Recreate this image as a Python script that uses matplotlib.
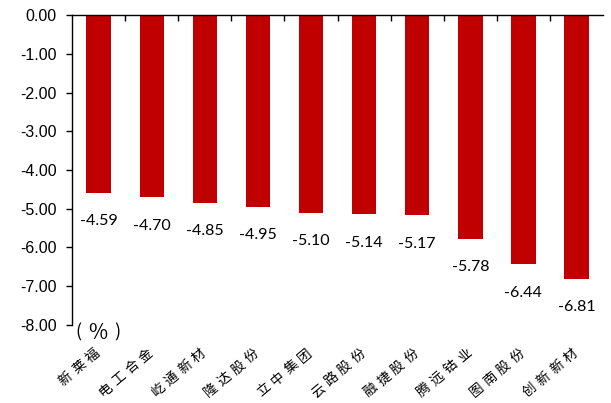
import numpy as np
import matplotlib.pyplot as plt

# 数据
names = ["新莱福", "电工合金", "屹通新材", "隆达股份", "立中集团",
         "云路股份", "融捷股份", "腾远钴业", "图南股份", "创新新材"]
values = [-4.59, -4.70, -4.85, -4.95, -5.10, -5.14, -5.17, -5.78, -6.44, -6.81]
y_ticks = [0, -1, -2, -3, -4, -5, -6, -7, -8]

cjk = ["Noto Sans CJK SC", "DejaVu Sans"]
px = 0.72  # 1 像素 = 0.72 点 (dpi=100)

fig = plt.figure(figsize=(6.11, 4.03), dpi=100)
ax = fig.add_axes([0.118, 0.194, 0.869, 0.768])

x = np.arange(len(names))
ax.bar(x, values, width=0.46, color="#C00000")

for xi, v in zip(x, values):
    ax.annotate(f"{v:.2f}", (xi, v), xytext=(0, -15.5), textcoords="offset points",
                ha="center", va="top", fontsize=11.5, family="Lato")

ax.set_xlim(-0.5, len(names) - 0.5)
ax.set_ylim(-8, 0)
ax.set_yticks(y_ticks)
ax.set_yticklabels([f"{t:.2f}" for t in y_ticks], family="Liberation Sans", fontsize=11.5)
ax.tick_params(axis="y", direction="out", length=4, width=1, pad=7)

# 横轴在顶部,刻度在类别分界处
ax.xaxis.set_ticks_position("top")
ax.set_xticks(np.arange(0.5, len(names) - 1, 1))
ax.set_xticklabels([])
ax.tick_params(axis="x", direction="in", length=4, width=1)
ax.spines["bottom"].set_visible(False)
ax.spines["right"].set_visible(False)
ax.spines["top"].set_linewidth(1)
ax.spines["left"].set_linewidth(1)

# 类别标签:逐字斜排,字间距较宽
ang = np.deg2rad(40)
step = 17.7
for xi, name in zip(x, names):
    n = len(name)
    for k, ch in enumerate(name):
        j = n - 1 - k
        dx = -6 - j * step * np.cos(ang)
        dy = -31 - j * step * np.sin(ang)
        ax.annotate(ch, (xi, 0), xycoords=("data", "axes fraction"),
                    xytext=(dx * px, dy * px), textcoords="offset points",
                    ha="center", va="center", rotation=40,
                    fontsize=9.8, family=cjk)

# 单位
for s, xo, fs in [("(", 6.5, 13), ("%", 26, 15), (")", 45, 13)]:
    ax.annotate(s, (0, 0), xycoords="axes fraction",
                xytext=(xo * px, -8 * px), textcoords="offset points",
                ha="center", va="center", fontsize=fs, family=cjk)

plt.savefig("out.png", dpi=100)
